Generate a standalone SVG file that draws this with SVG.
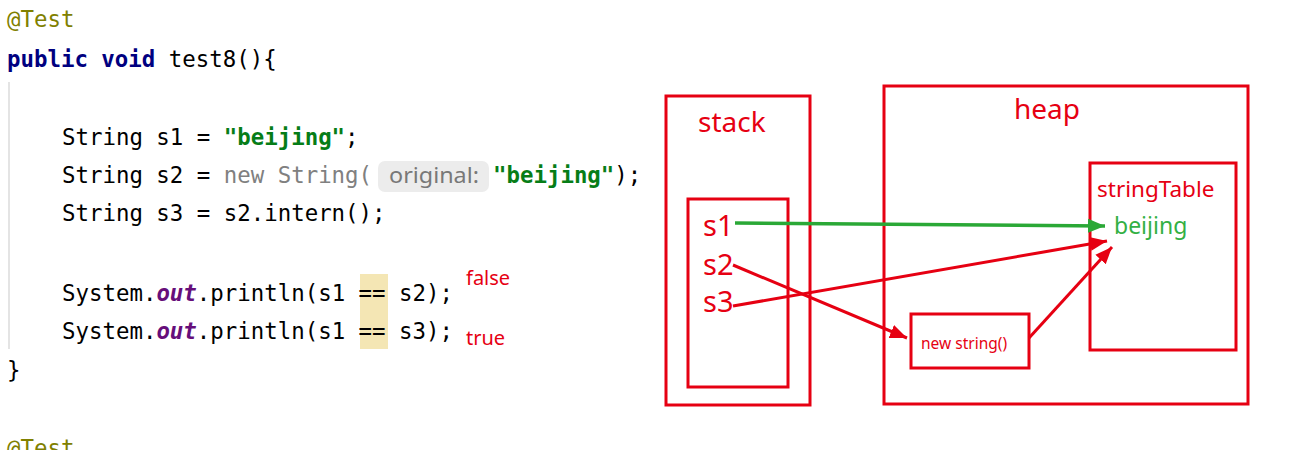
<svg xmlns="http://www.w3.org/2000/svg" width="1298" height="450" viewBox="0 0 1298 450">
<style>
.code{font-family:"DejaVu Sans Mono","Liberation Mono",monospace;font-size:22.4px;fill:#000;}
.kw{fill:#000080;font-weight:bold;}
.str{fill:#067d17;font-weight:bold;}
.gray{fill:#808080;}
.fld{fill:#660e7a;font-style:italic;font-weight:bold;}
.ann{fill:#808000;}
.box{fill:none;stroke:#e60012;stroke-width:3;}
.lbl{font-family:"Noto Sans","Open Sans",sans-serif;fill:#e60012;}
.red{stroke:#e60012;stroke-width:3;fill:none;}
.grn{stroke:#2aa836;stroke-width:3.5;fill:none;}
</style>
<defs>
<marker id="ar" markerUnits="userSpaceOnUse" markerWidth="18" markerHeight="16" viewBox="0 0 18 16" refX="17" refY="8" orient="auto">
<path d="M0,1 L17,8 L0,15 Z" fill="#e60012"/>
</marker>
<marker id="ag" markerUnits="userSpaceOnUse" markerWidth="18" markerHeight="16" viewBox="0 0 18 16" refX="17" refY="8" orient="auto">
<path d="M0,1 L17,8 L0,15 Z" fill="#2aa836"/>
</marker>
</defs>
<rect width="1298" height="450" fill="#fff"/>
<g id="code">
<line x1="9" y1="82" x2="9" y2="349" stroke="#e4e4e4" stroke-width="2"/>
<rect x="360" y="274" width="28" height="75" fill="#f4e6b4"/>
<text class="code ann" x="7" y="27">@Test</text>
<text class="code" x="7" y="67" xml:space="preserve"><tspan class="kw">public void</tspan> test8(){</text>
<text class="code" x="62" y="145" xml:space="preserve">String s1 = <tspan class="str">"beijing"</tspan>;</text>
<text class="code" x="62" y="183" xml:space="preserve">String s2 = <tspan class="gray">new String(</tspan></text>
<rect x="378" y="161" width="111" height="31" rx="7" fill="#ececec"/>
<text x="389" y="183" font-family="Noto Sans,Open Sans,sans-serif" font-size="21" fill="#787878" textLength="90" lengthAdjust="spacingAndGlyphs">original:</text>
<text class="code" x="493" y="183" xml:space="preserve"><tspan class="str">"beijing"</tspan>);</text>
<text class="code" x="62" y="221" xml:space="preserve">String s3 = s2.intern();</text>
<text class="code" x="62" y="301" xml:space="preserve">System.<tspan class="fld">out</tspan>.println(s1 == s2);</text>
<text class="code" x="62" y="339" xml:space="preserve">System.<tspan class="fld">out</tspan>.println(s1 == s3);</text>
<text class="code" x="7" y="378">}</text>
<text class="code ann" x="7" y="456">@Test</text>
<text class="lbl" x="466" y="285" font-size="20">false</text>
<text class="lbl" x="466" y="345" font-size="20">true</text>
</g>
<g id="stack">
<rect class="box" x="666" y="96" width="144" height="309"/>
<text class="lbl" x="698" y="132" font-size="28">stack</text>
</g>
<g id="stack-frame">
<rect class="box" x="688" y="199" width="100" height="188"/>
<text class="lbl" x="703" y="236" font-size="29">s1</text>
<text class="lbl" x="703" y="275" font-size="29">s2</text>
<text class="lbl" x="703" y="312" font-size="29">s3</text>
</g>
<g id="heap">
<rect class="box" x="884" y="86" width="364" height="318"/>
<text class="lbl" x="1014" y="119" font-size="28">heap</text>
</g>
<g id="stringTable">
<rect class="box" x="1090" y="163" width="146" height="187"/>
<text class="lbl" x="1097" y="197" font-size="22.5">stringTable</text>
<text x="1114" y="234" font-family="Noto Sans,Open Sans,sans-serif" font-size="23" fill="#33b044">beijing</text>
</g>
<g id="newString">
<rect class="box" x="911" y="314" width="118" height="54"/>
<text class="lbl" x="921" y="349" font-size="15.5">new string()</text>
</g>
<g id="connectors">
<line class="grn" x1="735" y1="223" x2="1105" y2="226" marker-end="url(#ag)"/>
<line class="red" x1="733" y1="265" x2="907" y2="338" marker-end="url(#ar)"/>
<line class="red" x1="733" y1="306" x2="1107" y2="241" marker-end="url(#ar)"/>
<line class="red" x1="1029" y1="338" x2="1112" y2="247" marker-end="url(#ar)"/>
</g>
</svg>
